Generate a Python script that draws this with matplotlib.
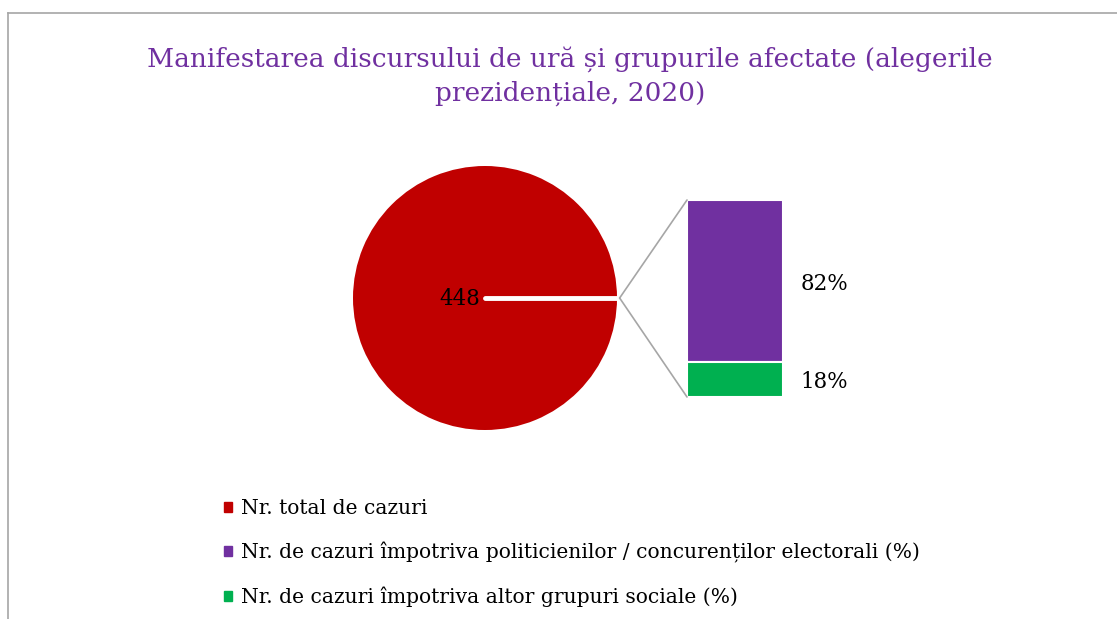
import matplotlib.pyplot as plt
from matplotlib.patches import ConnectionPatch, Patch
from matplotlib.lines import Line2D

plt.rcParams['font.family'] = ['DejaVu Serif']

# data
total_label = 'Nr. total de cazuri'
total_cases = [448]
sub_labels = ['Nr. de cazuri împotriva politicienilor / concurenților electorali (%)',
              'Nr. de cazuri împotriva altor grupuri sociale (%)']
sub_shares = [82, 18]
title = 'Manifestarea discursului de ură și grupurile afectate (alegerile\nprezidențiale, 2020)'

red = '#c00000'
sub_colors = ['#7030a0', '#00b050']
grey = '#a6a6a6'

W, H = 1117, 619
fig = plt.figure(figsize=(W / 100, H / 100), dpi=100)

# gray chart frame (left + top edges)
fig.add_artist(Line2D([8 / W, 8 / W], [0, 1 - 13 / H], color=grey, lw=1.2, transform=fig.transFigure))
fig.add_artist(Line2D([8 / W, 1], [1 - 13 / H, 1 - 13 / H], color=grey, lw=1.2, transform=fig.transFigure))

# pie
r = 132
cx, cy = 485, 298
ax1 = fig.add_axes([(cx - r) / W, (H - cy - r) / H, 2 * r / W, 2 * r / H])
wedges, _ = ax1.pie(total_cases, colors=[red], startangle=0, radius=1,
                    wedgeprops=dict(edgecolor='white', linewidth=0))
ax1.set_xlim(-1, 1)
ax1.set_ylim(-1, 1)
ax1.axis('off')
# slice border of the single slice
w = wedges[0]
ax1.plot([w.center[0], w.center[0] + w.r], [w.center[1], w.center[1]], color='white', lw=3.5,
         solid_capstyle='round')
ax1.text(-0.19, -0.01, str(total_cases[0]), ha='center', va='center', fontsize=15.5, color='black')

# bar of pie
ax2 = fig.add_axes([687 / W, (H - 397) / H, 96 / W, 197 / H])
bottom = 100
for share, col in zip(sub_shares, sub_colors):
    bottom -= share
    ax2.bar(0, share, width=1, bottom=bottom, color=col, edgecolor='white', linewidth=1.5)
    ax2.text(0.68, bottom + share / 2 - 1.5, f'{share}%', ha='left', va='center', fontsize=15.5)
ax2.set_xlim(-0.5, 0.5)
ax2.set_ylim(0, 100)
ax2.axis('off')

# connector lines
for yb in (100, 0):
    con = ConnectionPatch(xyA=(-0.5, yb), coordsA=ax2.transData,
                          xyB=(w.r * 1.02, 0), coordsB=ax1.transData,
                          color=grey, lw=1.2)
    fig.add_artist(con)

fig.text(570 / W, 1 - 76 / H, title, ha='center', va='center', fontsize=19,
         color='#7030a0', linespacing=1.45)

handles = [Patch(color=c) for c in [red] + sub_colors]
fig.legend(handles, [total_label] + sub_labels, loc='upper left',
           bbox_to_anchor=(224 / W, 1 - 499 / H), frameon=False, fontsize=14.6,
           handlelength=0.4, handleheight=0.4, handletextpad=0.45, labelspacing=1.18,
           borderaxespad=0, borderpad=0)

fig.savefig('out.png', dpi=100)
